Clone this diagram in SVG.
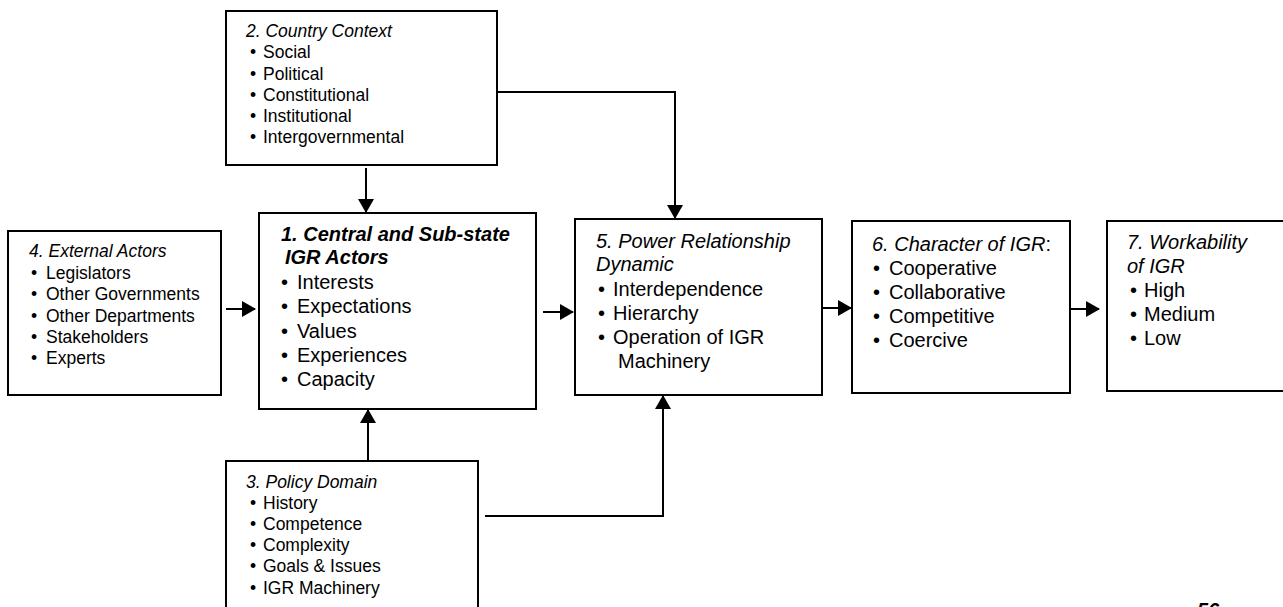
<svg xmlns="http://www.w3.org/2000/svg" width="1283" height="607" viewBox="0 0 1283 607">
<style>
.box{fill:#fff;stroke:#000;stroke-width:2}
.s{font-family:"Liberation Sans",Arial,sans-serif;font-size:17.5px;fill:#000}
.l{font-family:"Liberation Sans",Arial,sans-serif;font-size:20px;fill:#000}
.i{font-style:italic}
.b{font-weight:bold}
.con{fill:none;stroke:#000;stroke-width:2}
</style>
<defs>
<marker id="ah" markerUnits="userSpaceOnUse" markerWidth="14" markerHeight="16" viewBox="0 0 14 16" refX="13" refY="8" orient="auto">
<path d="M0,0 L14,8 L0,16 Z" fill="#000"/>
</marker>
</defs>
<rect width="1283" height="607" fill="#fff"/>

<g id="connectors">
<line class="con" x1="366" y1="168" x2="366" y2="212" marker-end="url(#ah)"/>
<line class="con" x1="368" y1="460" x2="368" y2="410" marker-end="url(#ah)"/>
<line class="con" x1="226" y1="309" x2="255" y2="309" marker-end="url(#ah)"/>
<line class="con" x1="543" y1="312" x2="573" y2="312" marker-end="url(#ah)"/>
<polyline class="con" points="497,92 675,92 675,218" marker-end="url(#ah)"/>
<polyline class="con" points="485,516 663,516 663,396" marker-end="url(#ah)"/>
<line class="con" x1="822" y1="308" x2="851" y2="308" marker-end="url(#ah)"/>
<line class="con" x1="1070" y1="309" x2="1099" y2="309" marker-end="url(#ah)"/>
</g>

<g id="node2">
<rect class="box" x="226" y="11" width="271" height="154"/>
<text class="s i" x="246" y="37">2. Country Context</text>
<text class="s" x="250" y="58">•</text><text class="s" x="263" y="58">Social</text>
<text class="s" x="250" y="80">•</text><text class="s" x="263" y="80">Political</text>
<text class="s" x="250" y="101">•</text><text class="s" x="263" y="101">Constitutional</text>
<text class="s" x="250" y="122">•</text><text class="s" x="263" y="122">Institutional</text>
<text class="s" x="250" y="143">•</text><text class="s" x="263" y="143">Intergovernmental</text>
</g>

<g id="node4">
<rect class="box" x="8" y="231" width="213" height="164"/>
<text class="s i" x="29" y="257">4. External Actors</text>
<text class="s" x="31" y="279">•</text><text class="s" x="46" y="279">Legislators</text>
<text class="s" x="31" y="300">•</text><text class="s" x="46" y="300">Other Governments</text>
<text class="s" x="31" y="322">•</text><text class="s" x="46" y="322">Other Departments</text>
<text class="s" x="31" y="343">•</text><text class="s" x="46" y="343">Stakeholders</text>
<text class="s" x="31" y="364">•</text><text class="s" x="46" y="364">Experts</text>
</g>

<g id="node1">
<rect class="box" x="259" y="213" width="277" height="196"/>
<text class="l i b" x="281" y="241">1. Central and Sub-state</text>
<text class="l i b" x="285" y="264">IGR Actors</text>
<text class="l" x="281" y="289">•</text><text class="l" x="297" y="289">Interests</text>
<text class="l" x="281" y="313">•</text><text class="l" x="297" y="313">Expectations</text>
<text class="l" x="281" y="338">•</text><text class="l" x="297" y="338">Values</text>
<text class="l" x="281" y="362">•</text><text class="l" x="297" y="362">Experiences</text>
<text class="l" x="281" y="386">•</text><text class="l" x="297" y="386">Capacity</text>
</g>

<g id="node5">
<rect class="box" x="575" y="219" width="247" height="176"/>
<text class="l i" x="596" y="248">5. Power Relationship</text>
<text class="l i" x="596" y="271">Dynamic</text>
<text class="l" x="598" y="296">•</text><text class="l" x="613" y="296">Interdependence</text>
<text class="l" x="598" y="320">•</text><text class="l" x="613" y="320">Hierarchy</text>
<text class="l" x="598" y="344">•</text><text class="l" x="613" y="344">Operation of IGR</text>
<text class="l" x="618" y="368">Machinery</text>
</g>

<g id="node6">
<rect class="box" x="852" y="221" width="218" height="172"/>
<text class="l" x="872" y="251"><tspan class="i">6. Character of IGR</tspan>:</text>
<text class="l" x="873" y="275">•</text><text class="l" x="889" y="275">Cooperative</text>
<text class="l" x="873" y="299">•</text><text class="l" x="889" y="299">Collaborative</text>
<text class="l" x="873" y="323">•</text><text class="l" x="889" y="323">Competitive</text>
<text class="l" x="873" y="347">•</text><text class="l" x="889" y="347">Coercive</text>
</g>

<g id="node7">
<rect class="box" x="1107" y="221" width="190" height="170"/>
<text class="l i" x="1127" y="249">7. Workability</text>
<text class="l i" x="1127" y="273">of IGR</text>
<text class="l" x="1130" y="297">•</text><text class="l" x="1144" y="297">High</text>
<text class="l" x="1130" y="321">•</text><text class="l" x="1144" y="321">Medium</text>
<text class="l" x="1130" y="345">•</text><text class="l" x="1144" y="345">Low</text>
</g>

<g id="node3">
<rect class="box" x="226" y="461" width="252" height="160"/>
<text class="s i" x="246" y="488">3. Policy Domain</text>
<text class="s" x="250" y="509">•</text><text class="s" x="263" y="509">History</text>
<text class="s" x="250" y="530">•</text><text class="s" x="263" y="530">Competence</text>
<text class="s" x="250" y="551">•</text><text class="s" x="263" y="551">Complexity</text>
<text class="s" x="250" y="572">•</text><text class="s" x="263" y="572">Goals &amp; Issues</text>
<text class="s" x="250" y="594">•</text><text class="s" x="263" y="594">IGR Machinery</text>
</g>

<text class="l i b" x="1197" y="617">56</text>
</svg>
